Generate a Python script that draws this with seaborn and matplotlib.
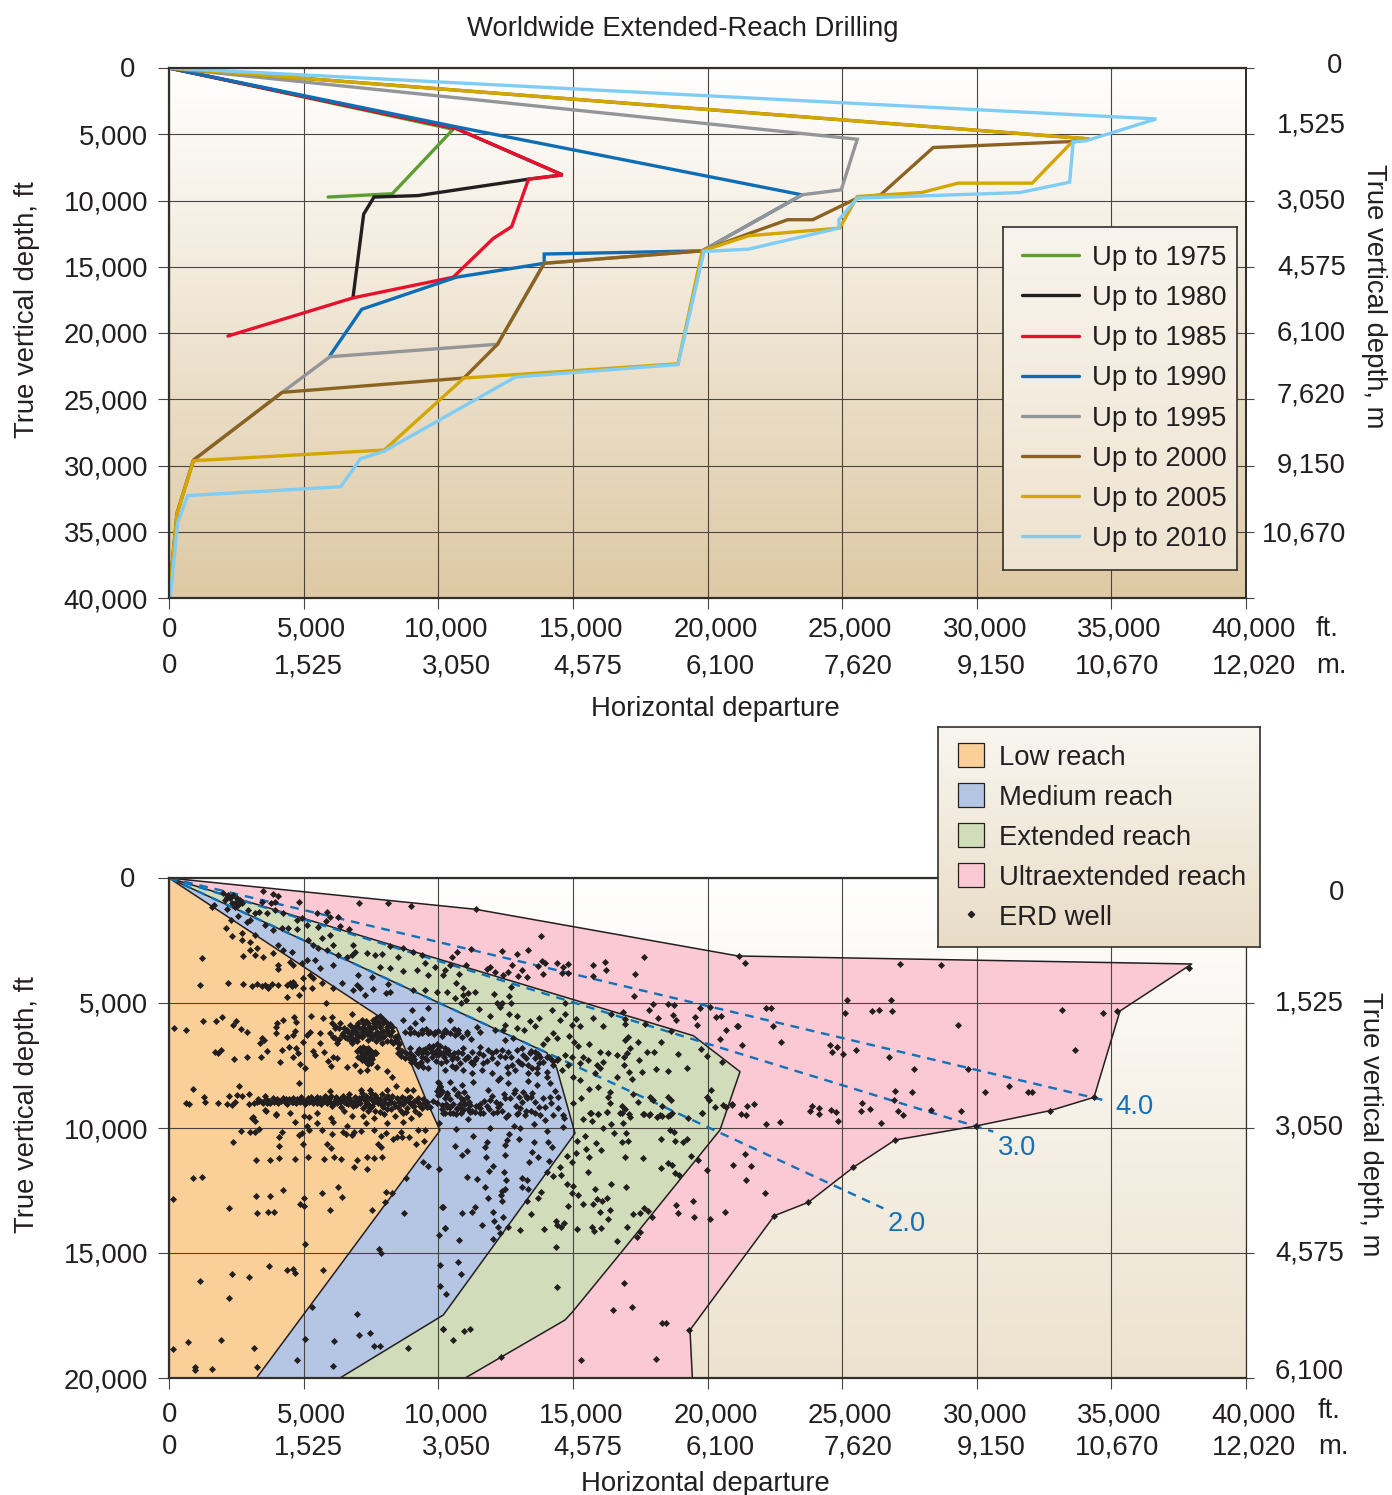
import matplotlib

matplotlib.use("Agg")

import matplotlib.pyplot as plt
import numpy as np
import pandas as pd
import seaborn as sns
from matplotlib.colors import LinearSegmentedColormap
from matplotlib.lines import Line2D
from matplotlib.patches import Patch
from matplotlib.transforms import ScaledTranslation

# wellpaths envelope by year, x = horizontal departure ft, y = true vertical depth ft
up_to_1975_x = [0, 10554, 8295, 5909]
up_to_1975_y = [0, 4626, 9490, 9740]
up_to_1980_x = [0, 10668, 14616, 13352, 9247, 7614, 7230, 6832]
up_to_1980_y = [0, 4570, 8070, 8390, 9630, 9740, 11030, 17350]
up_to_1985_x = [0, 10668, 14616, 13352, 12727, 12045, 10554, 6832, 2187]
up_to_1985_y = [0, 4570, 8070, 8390, 11970, 12860, 15790, 17350, 20230]
up_to_1990_x = [0, 10668, 23510, 19804, 13935, 13935, 10668, 7159, 5980]
up_to_1990_y = [0, 4440, 9573, 13800, 14040, 14740, 15790, 18210, 21700]
up_to_1995_x = [0, 25563, 24967, 23510, 19804, 13935, 12202, 5980, 4205, 909, 298, 0]
up_to_1995_y = [0, 5377, 9196, 9573, 13800, 14740, 20850, 21790, 24480, 29590, 33600, 40000]
up_to_2000_x = [0, 34179, 33510, 28386, 26428, 25563, 23907, 22980, 21520, 19804, 13935, 12202, 10952, 4205, 909, 298, 0]
up_to_2000_y = [0, 5352, 5550, 6000, 9573, 9820, 11450, 11450, 12510, 13800, 14740, 20850, 23400, 24480, 29590, 33600, 40000]
up_to_2005_x = [0, 34179, 33517, 32060, 29305, 27953, 25563, 24907, 21530, 19804, 18906, 10952, 7997, 909, 298, 0]
up_to_2005_y = [0, 5352, 5630, 8690, 8690, 9400, 9700, 12085, 12660, 13800, 22320, 23400, 28830, 29640, 33620, 40000]
up_to_2010_x = [0, 36669, 34047, 33583, 33450, 31600, 25563, 24880, 24880, 21530, 19870, 18906, 12870, 7997, 7117, 6378, 696, 327, 43]
up_to_2010_y = [0, 3844, 5500, 5550, 8620, 9400, 9820, 11450, 12085, 13670, 13845, 22380, 23320, 28920, 29480, 31600, 32270, 34290, 39950]

year_labels = ["Up to 1975", "Up to 1980", "Up to 1985", "Up to 1990",
               "Up to 1995", "Up to 2000", "Up to 2005", "Up to 2010"]
year_colors = ["#5b9e32", "#231f20", "#e8112d", "#0f6db5",
               "#939598", "#8a6320", "#d4a600", "#7fcdf5"]

# reach class envelopes
low_reach_x = [0, 8450, 9500, 10065, 3250, 0]
low_reach_y = [0, 6000, 8750, 10100, 20000, 20000]
medium_reach_x = [0, 14027, 14398, 15079, 10188, 6350]
medium_reach_y = [0, 6987, 7600, 10213, 17480, 20000]
extended_reach_x = [0, 19473, 21207, 20464, 16787, 14993, 14708, 11000]
extended_reach_y = [0, 6307, 7747, 10080, 14987, 17347, 17680, 20000]
ultra_reach_x = [0, 11391, 21144, 37983, 35320, 34355, 32720, 29970, 26964, 25416, 23745, 22483, 19350, 19437]
ultra_reach_y = [0, 1252, 3120, 3440, 5320, 8773, 9307, 9920, 10480, 11573, 12973, 13507, 18080, 20000]

reach_labels = ["Low reach", "Medium reach", "Extended reach", "Ultraextended reach"]
reach_colors = ["#fbcf98", "#b5c5e4", "#d1dcba", "#fbc9d3"]

# departure / depth ratio lines
ratio_labels = ["2.0", "3.0", "4.0"]
ratio_end_x = [26530, 30615, 34800]
ratio_end_y = [13213, 10147, 8907]

wells_ultra = [
    (21169, 3107), (21405, 3413), (27161, 3440), (28672, 3480), (37895, 3613), (25168, 4880), (26802, 4880),
    (22172, 5200), (22370, 5200), (25119, 5413), (26109, 5320), (26357, 5266), (26852, 5333), (33153, 5266),
    (34700, 5413), (35220, 5320), (29290, 5893), (21120, 5933), (22420, 5906), (22730, 6573), (24549, 6693),
    (24809, 6746), (24623, 6946), (25044, 7053), (25527, 6893), (21268, 6693), (33648, 6880), (26753, 7159),
    (27681, 7653), (29687, 7640), (31210, 8320), (30306, 8560), (31915, 8545), (32064, 8545), (26951, 8520),
    (27595, 8573), (25725, 9013), (26914, 8893), (34342, 8773), (21726, 9025), (21479, 9105), (20897, 9065),
    (23868, 9118), (23806, 9332), (24153, 9212), (24153, 9425), (24586, 9279), (24772, 9359), (25688, 9319),
    (26035, 9238), (27087, 9305), (27248, 9478), (28313, 9292), (29402, 9305), (32732, 9305), (21231, 9425),
    (21417, 9492), (22184, 9825), (22680, 9758), (24834, 9705), (26431, 9798), (21380, 11038), (20934, 11478),
    (21603, 11505), (21429, 12078), (22122, 12598), (26964, 10478), (25416, 11571), (23744, 12971),
    (22482, 13505), (29971, 9918), (19969, 11693), (19660, 11280), (18830, 13066), (19461, 12919),
    (18904, 13386), (19499, 13559), (20093, 13652), (20650, 13372), (17951, 13546), (17493, 14172),
    (17369, 14345), (16626, 14532), (16911, 16185), (17196, 17171), (16503, 17278), (18298, 17811),
    (18458, 17811), (19325, 18091), (18075, 19251), (15289, 19278), (12318, 19171), (11390, 1253),
    (13804, 2319), (10684, 2946), (11204, 2839), (10498, 3146), (12355, 2919), (12937, 3026), (13346, 2892),
    (11922, 3546), (11031, 3479), (12751, 3479), (13098, 3679), (13717, 3506), (13841, 3319), (13965, 3399),
    (14398, 3399), (14831, 3425), (14621, 3546), (14831, 3812), (14584, 3812), (13878, 3839), (13309, 3946),
    (12974, 3919), (12603, 3746), (12108, 3746), (11798, 3652), (12392, 3879), (15735, 3479), (16193, 3346),
    (16230, 3679), (15735, 3919), (17654, 3172), (17307, 3826), (17283, 4732), (17988, 5026), (17840, 5279),
    (18533, 5026), (18768, 5092), (18174, 5612), (18731, 5479), (18818, 5679), (19536, 5572), (19598, 5879),
    (19721, 5212), (20093, 5172), (20316, 5572), (20501, 5505), (20687, 6079), (21108, 5905), (20464, 6439),
    (3503, 520), (3850, 640), (4060, 707), (3937, 947), (3775, 1013), (4828, 947), (3466, 947),
    (5818, 1700), (7040, 1010), (8140, 1010), (9000, 1100),
]

wells_extended = [
    (10189, 18051), (10944, 18131), (11179, 18025), (10560, 18491), (14398, 16372), (14361, 14745),
    (15141, 10506), (15450, 10320), (15846, 10586), (16057, 10880), (15475, 10826), (15116, 11013),
    (14794, 11106), (14980, 11346), (15599, 11146), (16948, 11173), (17604, 11200), (18261, 11586),
    (15562, 11746), (14522, 11546), (14546, 11893), (14250, 11920), (14794, 12253), (15017, 12319),
    (14955, 12586), (15203, 12692), (15822, 12439), (16416, 12253), (16986, 12359), (15388, 13026),
    (15747, 13052), (15908, 12852), (16069, 12906), (16267, 12812), (14819, 13132), (16007, 13359),
    (16379, 13279), (17245, 13439), (17493, 13412), (17629, 13212), (17802, 13306), (16305, 13652),
    (13445, 13426), (13717, 12799), (13804, 12546), (13036, 14092), (13940, 14039), (14361, 13706),
    (14423, 13879), (14571, 13946), (14683, 13786), (15153, 14025), (15723, 13946), (15785, 14105),
    (16057, 13985), (17023, 13959), (18545, 11413), (18681, 11493), (18793, 11813), (18954, 11893),
    (18273, 10440), (18793, 10533), (19102, 10573), (19251, 10453), (19399, 11133), (18607, 10080),
    (18756, 10146), (16837, 10573), (17060, 10506), (16961, 10213), (16527, 10186), (16106, 10013),
    (16404, 9853), (16874, 9813), (15388, 9640), (15698, 9706), (15945, 9453), (15661, 9387), (17642, 9440),
    (17839, 9493), (18112, 9573), (18298, 9520), (18545, 9520), (18669, 9387), (19288, 9613), (19783, 9413),
    (16812, 9387), (17122, 9573), (16255, 9347), (10436, 3479), (10251, 3679), (10783, 3839), (10659, 4186),
    (10907, 4412), (10313, 4572), (11117, 4612), (11365, 4546), (10622, 4812), (10932, 4679), (11031, 4879),
    (10832, 4985), (12071, 4639), (12628, 4705), (12702, 5012), (12702, 4372), (12194, 5012), (12293, 5145),
    (12380, 5012), (11526, 5238), (11922, 5505), (12640, 5439), (12937, 5505), (13754, 5585), (13408, 5719),
    (13593, 5919), (12479, 5879), (12417, 6079), (12912, 6012), (13197, 6079), (14237, 5279), (14708, 5012),
    (14708, 5439), (14522, 5679), (14955, 5879), (15116, 5639), (15264, 5919), (15735, 5612), (16106, 5919),
    (16404, 5439), (16874, 5372), (16948, 5652), (16948, 5839), (17679, 5852), (18632, 6119), (17431, 6545),
    (18273, 6572), (15611, 6652), (17060, 6346), (16936, 6479), (14274, 6212), (14398, 6412), (14027, 6452),
    (13903, 6639), (14868, 6305), (15042, 6545), (15202, 6719), (16007, 6945), (16317, 6985), (16626, 7079),
    (17122, 6812), (17023, 6985), (16899, 7145), (17741, 6945), (18025, 6958), (18892, 7039), (19746, 6839),
    (19994, 7105), (20551, 7345), (17468, 7279), (19226, 7585), (18087, 7652), (18545, 7719), (17555, 7772),
    (16899, 7479), (16626, 7945), (17097, 7772), (17184, 8038), (16131, 7345), (16007, 7612), (15822, 7812),
    (15388, 7145), (15264, 7412), (15574, 7279), (15884, 7479), (15017, 7945), (15264, 8078), (14831, 7479),
    (14584, 7679), (14955, 7145), (14708, 7079), (15945, 8345), (15599, 8438), (16379, 8545), (16317, 8745),
    (16379, 9012), (17245, 8652), (17431, 8945), (16812, 9105), (16936, 9251), (16750, 9412), (17097, 9438),
    (17865, 8745), (17988, 8878), (18298, 9105), (18545, 8772), (18632, 8878), (19783, 9412), (19969, 8772),
    (20068, 8878), (20142, 8478), (20279, 9145), (20588, 9078), (20687, 9172), (20898, 9052), (15017, 8985),
    (15289, 8785), (15636, 9385), (15945, 9452), (16255, 9345), (17617, 9438), (17865, 9438), (18236, 9478),
    (18607, 9478), (2946, 1280), (3194, 1386), (3342, 1346), (3627, 1413), (3937, 1280), (4246, 1386),
    (3565, 1880), (3875, 2079), (4184, 2013), (4432, 2013), (4741, 1680), (4927, 1613), (4741, 2053),
    (5113, 1880), (5484, 1413), (5855, 1346), (5979, 1546), (6289, 1546), (5546, 1946), (6351, 1919),
    (6685, 2053), (5979, 2279), (5670, 2413), (6846, 2679), (6908, 2946), (6103, 2679), (7341, 3013),
    (7651, 3079), (7898, 3040), (8208, 2706), (8517, 3146), (8703, 2812), (9074, 2946), (9384, 3079),
    (7836, 3546), (8208, 3612), (8703, 3720), (9198, 3679), (9508, 3386), (9631, 3879), (9879, 3546),
    (10188, 3879),
]

wells_medium = [
    (10647, 10053), (11278, 10320), (11922, 10013), (12813, 9920), (13036, 10013), (13569, 9840),
    (14027, 10106), (14621, 9946), (14683, 9613), (11117, 9653), (12504, 9573), (12937, 9440), (13965, 9680),
    (10622, 10706), (10870, 11080), (11055, 10920), (11736, 10746), (11798, 10573), (11761, 11159),
    (12479, 11080), (12541, 10480), (12628, 10253), (12987, 10440), (12479, 10680), (13569, 10546),
    (14089, 10573), (14212, 10746), (13470, 10973), (13692, 11146), (13371, 11346), (14101, 11306),
    (14052, 11759), (12046, 11506), (11885, 11706), (12454, 11746), (11055, 11959), (11427, 12053),
    (12516, 12093), (11736, 12372), (13123, 11986), (13309, 12066), (13110, 12359), (13346, 12426),
    (12479, 12439), (12355, 12519), (12318, 12679), (12368, 12906), (11835, 12812), (13284, 12919),
    (10164, 13172), (10870, 13399), (11365, 13146), (11253, 13346), (12046, 13372), (12417, 13546),
    (12058, 13706), (11612, 13866), (12231, 13972), (12293, 14185), (12578, 13972), (10251, 14012),
    (10783, 14492), (12046, 14452), (10733, 15358), (10845, 15838), (10275, 16652), (10052, 15478),
    (10052, 16318), (10151, 13172), (10250, 14012), (10015, 14292), (7787, 14839), (7886, 15012),
    (6994, 17452), (7056, 18291), (7452, 18198), (7601, 18731), (7824, 18704), (8889, 18784), (10188, 18051),
    (5323, 17145), (5038, 18451), (6115, 18518), (4741, 19291), (3268, 19544), (6078, 19531), (8802, 12013),
    (8059, 12572), (8282, 12599), (8022, 12959), (8715, 13399), (9421, 11360), (9619, 11519), (10015, 11639),
    (10436, 5679), (10746, 6079), (11055, 6146), (10251, 6079), (10622, 6279), (11427, 5946), (11551, 6146),
    (12108, 6079), (12479, 6479), (12789, 6412), (13098, 6812), (13408, 7012), (13779, 7145), (14212, 7279),
    (14398, 7279), (14027, 7145), (14274, 7479), (14027, 7745), (10189, 7012), (10374, 6879), (10560, 7145),
    (10746, 6945), (10932, 6812), (11055, 7145), (11241, 6945), (11365, 7279), (11551, 6745), (11674, 7079),
    (11860, 6879), (11984, 7212), (12170, 7412), (12355, 6879), (12541, 7545), (12727, 7479), (12479, 7145),
    (12912, 6879), (13160, 7079), (13346, 7479), (13593, 7212), (13036, 7412), (13655, 7812), (13346, 7812),
    (12850, 7679), (10251, 7679), (10622, 7612), (10932, 7679), (11241, 7812), (11612, 7679), (11984, 7812),
    (12293, 8012), (12603, 7812), (10436, 8145), (10870, 8278), (11303, 8145), (11860, 8478), (12232, 8078),
    (12603, 8212), (13321, 8105), (13655, 8278), (14027, 7945), (14150, 8212), (14460, 8772), (13160, 8545),
    (12850, 8478), (13470, 8612), (13284, 8812), (10313, 8612), (10684, 8678), (10932, 8878), (11179, 9078),
    (11551, 9211), (11922, 8878), (12232, 9145), (12479, 8812), (12974, 9412), (10127, 9078), (10436, 9145),
    (10684, 9211), (10932, 9278), (11179, 9345), (10189, 9412), (10560, 9412), (11365, 9345), (11674, 9385),
    (13222, 9478), (13593, 9412), (13965, 9145), (14274, 9478), (14646, 9478), (14460, 9211), (13903, 8812),
    (12046, 9412), (12603, 9478), (13779, 9478), (8765, 6146), (8950, 6212), (9136, 5812), (9384, 6079),
    (9631, 6212), (9879, 6146), (10188, 6212), (8950, 6812), (9198, 6945), (9446, 6879), (9693, 6812),
    (9941, 6879), (10250, 6812), (9384, 7145), (9570, 7279), (9755, 7145), (10003, 7079), (9322, 7412),
    (9631, 7612), (10065, 8345), (10003, 8678), (10313, 8678), (9941, 9012), (10313, 9145), (9012, 5279),
    (9631, 5212), (8703, 5679), (9384, 5652), (1671, 1080), (1584, 1147), (2141, 1253), (2575, 1520),
    (2884, 1747), (3008, 1680), (4060, 2679), (4246, 2879), (4555, 2946), (5175, 2479), (5360, 2679),
    (5546, 2812), (5855, 2879), (6289, 3079), (6598, 3146), (6784, 3079), (7032, 3879), (7527, 3946),
    (6970, 4279), (7094, 4412), (6846, 4479), (7279, 4679), (8059, 4586), (8208, 4546), (7589, 4452),
    (8146, 4239), (9074, 4479), (9508, 4479), (9941, 4546), (2018, 613), (2141, 747), (2265, 813),
    (2080, 880), (2389, 680), (2538, 813), (2488, 947), (2327, 1013), (2637, 880), (2575, 1080),
    (2451, 1147), (2203, 680), (2700, 1000),
    (8950, 6000), (9100, 6150), (9250, 6250), (9400, 6200), (9550, 6050), (9700, 6150), (9850, 6250),
    (10000, 6100), (10150, 6300), (10300, 6150), (10450, 6200), (10600, 6050), (10750, 6200), (10900, 6350),
    (11050, 6250), (11200, 6450), (8500, 6800), (8650, 6900), (8800, 7000), (8950, 7000), (9050, 7100),
    (8900, 7200), (9100, 7250), (9250, 7000), (9400, 7000), (9300, 6850), (9500, 6850), (9650, 6700),
    (9800, 6700), (9950, 6650), (10050, 6700), (9600, 7000), (9750, 6950), (9500, 7200), (9350, 7350),
    (9250, 7500), (9450, 7550), (9150, 7400), (9000, 7350), (8600, 7100), (8500, 7000), (8750, 7200),
    (9700, 6800), (9800, 6950), (9900, 7050), (10000, 6900), (10100, 7000), (10200, 7150), (10300, 6950),
    (10400, 7050), (10500, 7250), (10600, 7000), (10700, 7200), (10800, 7400), (10900, 7000), (11000, 7250),
    (11100, 7150), (11200, 7350), (11300, 7450), (10500, 7500), (10650, 7550), (10300, 7300), (10100, 7400),
    (9900, 7300), (11400, 7200), (11500, 7000), (11650, 7400), (11800, 7300), (12000, 7000), (12150, 6900),
    (12300, 7100), (12600, 6950), (12700, 7150), (12950, 7300), (13100, 7450), (13250, 7200), (13450, 6900),
    (13600, 6950), (13700, 7050), (13750, 7400), (13650, 7600), (13500, 7600), (13900, 7350), (14100, 7150),
    (14250, 7300), (14450, 7250), (10000, 8150), (10050, 8300), (9950, 8500), (10050, 8650), (10150, 8500),
    (10250, 8800), (10450, 8850), (10600, 8450), (10750, 8600), (10850, 8800), (10950, 8550), (11050, 8750),
    (11150, 8950), (10300, 9050), (10400, 9150), (10550, 9050), (10700, 9250), (10800, 9050), (10900, 9200),
    (11000, 9050), (11100, 9250), (10150, 9250), (10250, 9400), (10450, 9400), (10650, 9450), (10850, 9400),
    (11250, 9300), (11400, 9100), (11550, 9050), (11700, 8900), (11800, 9100), (12000, 8700), (12150, 8950),
    (12300, 9050), (12450, 8650), (12650, 8800), (12800, 8600), (12900, 9100), (13000, 8750), (13100, 8950),
    (13250, 8700), (13450, 8750), (13600, 8950), (13750, 9150), (13450, 9300), (13250, 9300), (13050, 9200),
    (14200, 9000), (14350, 8500), (14150, 8750), (11550, 9400), (12200, 9350), (12350, 9300), (11900, 9250),
]

wells_low = [
    (2389, 10573), (2661, 10120), (3008, 10146), (3194, 10173), (3342, 10053), (4085, 10346), (4184, 10146),
    (4073, 10733), (4692, 9773), (4828, 10280), (4939, 10186), (5113, 9906), (5212, 10080), (4976, 10626),
    (5695, 10080), (6066, 10240), (5855, 10653), (6016, 10800), (6598, 9906), (6474, 10160), (6561, 10253),
    (6784, 10266), (6871, 10146), (7131, 10106), (7626, 10080), (7861, 10320), (8059, 10200), (8604, 10146),
    (8331, 10453), (8480, 10346), (8666, 10373), (8901, 10346), (7750, 10640), (7861, 10773), (9235, 10080),
    (9520, 10080), (9161, 10653), (9458, 10533), (10040, 9813), (3231, 11266), (3763, 11266), (4085, 11213),
    (4679, 11226), (5162, 11146), (5769, 11240), (6128, 11146), (6388, 11226), (6994, 11280), (7366, 11146),
    (7626, 11200), (7923, 11146), (6883, 11573), (7353, 11640), (903, 12000), (1213, 11959), (136, 12852),
    (3231, 12733), (3738, 12733), (4246, 12466), (5001, 12812), (4877, 13039), (5001, 13132), (5670, 12612),
    (6264, 12359), (6425, 12759), (5967, 13292), (7551, 13266), (2240, 13212), (3280, 13412), (3677, 13346),
    (3912, 13359), (5038, 14652), (3701, 15518), (2352, 15852), (2971, 15972), (4382, 15678), (4617, 15638),
    (4679, 15812), (5719, 15692), (1151, 16132), (2228, 16785), (693, 18558), (1931, 18478), (136, 18838),
    (3169, 18811), (965, 19557), (965, 19690), (1584, 19624), (3095, 9613), (3194, 9720), (3974, 9453),
    (3615, 9320), (5187, 9573), (2302, 1680), (2117, 1987), (2699, 2186), (2352, 2333), (2711, 2479),
    (3194, 2279), (3008, 2546), (3008, 2879), (3256, 2812), (3194, 3079), (3503, 3146), (2761, 3106),
    (3875, 3013), (1238, 3186), (4060, 3479), (4060, 3652), (4617, 3479), (4493, 3346), (4927, 3412),
    (5113, 3279), (5422, 3279), (5608, 3612), (6103, 3479), (6413, 4212), (6103, 4412), (4989, 4013),
    (5236, 3879), (5360, 4013), (5670, 4212), (5298, 4412), (4828, 4679), (4370, 4746), (4989, 4412),
    (1163, 4292), (2191, 4186), (2760, 4252), (3070, 4319), (3256, 4239), (3441, 4319), (3565, 4279),
    (3689, 4346), (3813, 4239), (3689, 4412), (4060, 4279), (4370, 4279), (4493, 4212), (4617, 4146),
    (4555, 4319), (4679, 4279), (5818, 5012), (185, 5986), (631, 6066), (1275, 5732), (1733, 5719),
    (1968, 5559), (2488, 5732), (2389, 5879), (2661, 6039), (2884, 6146), (3998, 5812), (3974, 5946),
    (4246, 5692), (4655, 5545), (4704, 5746), (5261, 5519), (5732, 5585), (3961, 6212), (4395, 6346),
    (4679, 6119), (4617, 6279), (4989, 6546), (5113, 6279), (5236, 6146), (3441, 6412), (3528, 6479),
    (3379, 6612), (5608, 6612), (5608, 6212), (6041, 5545), (6784, 5452), (1832, 7012), (1931, 6879),
    (1708, 6972), (2401, 7225), (2909, 7145), (3417, 7172), (3652, 6919), (4184, 6892), (4469, 6745),
    (4716, 6785), (4803, 7012), (4617, 7145), (5360, 6905), (5422, 7079), (5757, 6945), (4110, 7372),
    (4877, 7425), (5063, 7612), (6078, 7145), (6227, 7212), (5917, 7319), (6016, 7505), (6598, 7572),
    (6908, 7479), (7094, 7705), (7712, 7572), (8109, 7705), (8270, 7945), (6041, 5812), (6165, 6012),
    (6351, 5812), (5979, 6212), (6103, 6346), (6227, 6612), (6413, 6279), (6598, 6079), (6722, 5879),
    (6846, 6079), (7032, 5812), (7155, 5679), (7217, 5946), (6970, 6279), (7155, 6346), (7341, 6146),
    (7465, 5946), (6722, 6346), (7403, 6479), (7589, 5679), (7712, 5812), (7836, 5946), (7960, 5812),
    (8084, 6079), (8208, 6279), (7960, 6346), (8393, 6346), (8517, 6545), (8331, 6612), (7836, 6212),
    (7712, 6146), (7094, 6879), (7217, 7012), (7032, 7145), (7341, 6945), (7155, 7279), (7403, 7412),
    (7465, 7145), (7341, 7679), (7300, 6100), (7500, 6300), (7700, 6500), (7900, 6600), (8100, 6500),
    (8300, 6100), (8450, 6300), (7000, 6500), (6800, 6600), (6600, 6400), (6500, 6000), (7650, 5950),
    (7250, 6250), (7750, 6350), (7950, 6100), (8250, 5900), (7400, 5800), (6950, 5900), (903, 8451),
    (631, 9011), (755, 9038), (1300, 8744), (1337, 8971), (1832, 9011), (2240, 8717), (2141, 9038),
    (2327, 9078), (2451, 8945), (2538, 8678), (2699, 8717), (2612, 8318), (2971, 8651), (2971, 9038),
    (3565, 8704), (3565, 9278), (3974, 9478), (3132, 9544), (4828, 8184), (5979, 8505), (7118, 8478),
    (7465, 8478), (8084, 8478), (8430, 8318), (8851, 8478), (9074, 8478), (10040, 8184), (10040, 8411),
    (3150, 9000), (3250, 8950), (3350, 8900), (3450, 8950), (3500, 9000), (3600, 8850), (3700, 8900),
    (3750, 9000), (3850, 8800), (3900, 8950), (4000, 8850), (4050, 9000), (4150, 8900), (4250, 8800),
    (4300, 8950), (4400, 9050), (4450, 8850), (4550, 8950), (4600, 8800), (4700, 9000), (4750, 8850),
    (4850, 8950), (4900, 8750), (5000, 8900), (5050, 9050), (5150, 8800), (5200, 8950), (5300, 8850),
    (5350, 9000), (5450, 8900), (5500, 8750), (5600, 8950), (5650, 9050), (5750, 8850), (5800, 8700),
    (5850, 9000), (5950, 8850), (6000, 8700), (6050, 9100), (6150, 8900), (6200, 8750), (6250, 9000),
    (6350, 8850), (6400, 9150), (6450, 8700), (6500, 8950), (6600, 8800), (6650, 9050), (6700, 8650),
    (6750, 8900), (6850, 9100), (6900, 8750), (6950, 8950), (7050, 8800), (7100, 9000), (7150, 8600),
    (7200, 9200), (7250, 8850), (7300, 8700), (7350, 9000), (7450, 8800), (7500, 8600), (7550, 9100),
    (7600, 8950), (7650, 9300), (7700, 8750), (7750, 9000), (7850, 8850), (7900, 8650), (7950, 9150),
    (8000, 8950), (8050, 8750), (8150, 9050), (8200, 8850), (8250, 9250), (8300, 8700), (8350, 9000),
    (8450, 8800), (8500, 9150), (8550, 8950), (8650, 8750), (8700, 9050), (8750, 8850), (8850, 9200),
    (8900, 8950), (8950, 8750), (9050, 9100), (9100, 8900), (9150, 9300), (9250, 8800), (9300, 9000),
    (9400, 9200), (9450, 8850), (9550, 9050), (9600, 8950), (9700, 9150), (9800, 8900), (4500, 9400),
    (5000, 9500), (5500, 9400), (6000, 9600), (6500, 9300), (6800, 9500), (7200, 9500), (7600, 9600),
    (8000, 9450), (8400, 9500), (8700, 9400), (9000, 9600), (9300, 9450), (6100, 9750), (7300, 9800),
    (8100, 9800), (5500, 9800), (8700, 9750),
    (6150, 5900), (6300, 6000), (6450, 6200), (6550, 6350), (6300, 6450), (6150, 6400), (6650, 6150),
    (6750, 6250), (6850, 6000), (6950, 6150), (7050, 6000), (7150, 6150), (7250, 5850), (7300, 5700),
    (7400, 6000), (7450, 6150), (7550, 6000), (7600, 5800), (7700, 5600), (7800, 5750), (7850, 5500),
    (7950, 5650), (8050, 5750), (8100, 5950), (8200, 5850), (8300, 5950), (8150, 6200), (8000, 6300),
    (7850, 6400), (8250, 6500), (8350, 6550), (8450, 6450), (8550, 6650), (7050, 6300), (6950, 6400),
    (6850, 6450), (6750, 6500), (7200, 6050), (7350, 6250), (7650, 6250), (7550, 6400), (7000, 6900),
    (7100, 6800), (7200, 6750), (7300, 6850), (7400, 6800), (7500, 6900), (7150, 7000), (7300, 7050),
    (7450, 7000), (7550, 7100), (7100, 7150), (7250, 7200), (7400, 7250), (7550, 7250), (7300, 7350),
    (7400, 7450), (7500, 7400), (7650, 6950), (7700, 7000),
    (4900, 8820), (5020, 8960), (5140, 8880), (5260, 8760), (5380, 8930), (5500, 9010), (5620, 8790),
    (5740, 8900), (5860, 8810), (5980, 8950), (6100, 9030), (6220, 8830), (6340, 8950), (6460, 8830),
    (6580, 9000), (6700, 8790), (6820, 8960), (6940, 9060), (7060, 8880), (7180, 8750), (7300, 8920),
    (7420, 9080), (7540, 8820), (7660, 8680), (7780, 8900), (7900, 9060), (8020, 8830), (8140, 8700),
    (8260, 8960), (8380, 9120), (8500, 8830), (8620, 9010), (8740, 8950), (8860, 8780), (8980, 9030),
    (9100, 9120), (9220, 8900), (9340, 9100), (9460, 8980), (9580, 9150), (4080, 8900), (4350, 8830),
    (4620, 8970), (3300, 8830), (3650, 8980), (7280, 9100), (7380, 9300), (7480, 9200), (7850, 9350),
    (8100, 9220), (8600, 9300), (8800, 9350),
]

ft_ticks_top = [0, 5000, 10000, 15000, 20000, 25000, 30000, 35000, 40000]
ft_ticks_bottom = [0, 5000, 10000, 15000, 20000]
x_ticks = [0, 5000, 10000, 15000, 20000, 25000, 30000, 35000, 40000]
m_labels_x = ["0", "1,525", "3,050", "4,575", "6,100", "7,620", "9,150", "10,670", "12,020"]
m_labels_top = ["0", "1,525", "3,050", "4,575", "6,100", "7,620", "9,150", "10,670"]
m_labels_bottom = ["0", "1,525", "3,050", "4,575", "6,100"]

W, H = 1392, 1495
INK = "#231f20"
GRID = "#4a4540"
FS = 19.8

sns.set_style("white")
plt.rcParams["font.family"] = ["Liberation Sans", "DejaVu Sans"]
plt.rcParams["text.color"] = INK
plt.rcParams["axes.labelcolor"] = INK
plt.rcParams["xtick.color"] = INK
plt.rcParams["ytick.color"] = INK


def axes_px(fig, left, top, right, bottom):
    return fig.add_axes([left / W, 1 - bottom / H, (right - left) / W, (bottom - top) / H])


def put_text(fig, px, py, text, ha="center", **kwargs):
    # va center sits a touch high for plain text
    if "rotation" in kwargs:
        px += 3 if kwargs["rotation"] == 90 else -2
    else:
        py += 2
    fig.text(px / W, 1 - py / H, text, ha=ha, va="center", fontsize=FS, **kwargs)


def gradient(ax, end_color, start_color="#ffffff"):
    cmap = LinearSegmentedColormap.from_list("bg", [start_color, end_color])
    ax.imshow(np.linspace(0, 1, 256)[:, None], cmap=cmap, aspect="auto",
              extent=(0, 1, 0, 1), transform=ax.transAxes, zorder=0)


def style_axes(fig, ax, y_ticks, y_max, x_pad, spine_right=1.45):
    ax.set_xlim(0, 40000)
    ax.set_ylim(y_max, 0)
    ax.set_xticks(x_ticks, [f"{t:,}" for t in x_ticks])
    ax.set_yticks(y_ticks, [f"{t:,}" for t in y_ticks])
    ax.set_xlabel("")
    ax.set_ylabel("")
    ax.grid(True, color=GRID, lw=0.8, zorder=1)
    ax.set_axisbelow(False)
    for line in ax.get_xgridlines() + ax.get_ygridlines():
        line.set_zorder(2)
    ax.tick_params(axis="both", length=8, width=0.8, color=GRID, labelsize=FS, right=True,
                   left=True, bottom=True)
    ax.tick_params(axis="y", pad=7)
    ax.tick_params(axis="x", pad=x_pad)
    for tick in ax.yaxis.get_major_ticks():
        tick.tick2line.set_markersize(5.5)
    for name, spine in ax.spines.items():
        spine.set_visible(True)
        spine.set_color("#33302c")
        spine.set_linewidth(spine_right if name == "right" else 1.6)
        spine.set_zorder(6)
    for lbl, tick in zip(ax.get_xticklabels(), x_ticks):
        dx = 1 if tick == 0 else 8
        lbl.set_transform(lbl.get_transform() + ScaledTranslation(dx / 100, 0, fig.dpi_scale_trans))
    zero = ax.get_yticklabels()[0]
    zero.set_transform(zero.get_transform() + ScaledTranslation(-13 / 100, 1 / 100, fig.dpi_scale_trans))


def x_metric_row(fig, py):
    centers = [170, 308, 456, 588, 720, 858, 991, 1117, 1254]
    for px, text in zip(centers, m_labels_x):
        put_text(fig, px, py, text)


def plot_year_panel(fig):
    ax = axes_px(fig, 169, 68, 1246, 598)
    gradient(ax, "#dec9a4")
    series = [
        (up_to_1975_x, up_to_1975_y), (up_to_1980_x, up_to_1980_y), (up_to_1985_x, up_to_1985_y),
        (up_to_1990_x, up_to_1990_y), (up_to_1995_x, up_to_1995_y), (up_to_2000_x, up_to_2000_y),
        (up_to_2005_x, up_to_2005_y), (up_to_2010_x, up_to_2010_y),
    ]
    for i, (xs, ys) in enumerate(series):
        df = pd.DataFrame({"departure": xs, "depth": ys})
        sns.lineplot(data=df, x="departure", y="depth", sort=False, estimator=None, ax=ax,
                     color=year_colors[i], lw=2.4, zorder=3 + i * 0.1, solid_joinstyle="miter",
                     legend=False)
    style_axes(fig, ax, ft_ticks_top, 40000, 5.5)

    for py, text in zip([64, 124, 200, 265, 331, 394, 463, 532], m_labels_top):
        put_text(fig, 1342 if text == "0" else 1346, py, text, ha="right")
    put_text(fig, 1316, 627, "ft.", ha="left")
    put_text(fig, 1316, 664, "m.", ha="left")
    x_metric_row(fig, 664)
    put_text(fig, 683, 27, "Worldwide Extended-Reach Drilling")
    put_text(fig, 715, 707, "Horizontal departure")
    put_text(fig, 24, 310, "True vertical depth, ft", rotation=90)
    put_text(fig, 1376, 296, "True vertical depth, m", rotation=-90)

    box = axes_px(fig, 1003, 227, 1237, 570)
    box.set_zorder(10)
    gradient(box, "#eee3d0", "#f8f4ed")
    box.set_xticks([])
    box.set_yticks([])
    for spine in box.spines.values():
        spine.set_visible(True)
        spine.set_color("#33302c")
        spine.set_linewidth(1.2)
    handles = [Line2D([0], [0], color=c, lw=2.4) for c in year_colors]
    box.legend(handles, year_labels, loc="center", bbox_to_anchor=(0.5 + 4 / 234, 0.5), frameon=False,
               fontsize=FS, handlelength=2.1, handletextpad=0.44, labelspacing=0.515, borderpad=0,
               borderaxespad=0)


def plot_reach_panel(fig):
    ax = axes_px(fig, 169, 878, 1246, 1378)
    gradient(ax, "#ece2ce")

    # largest envelope first, each one painted over the last
    closing = [
        (ultra_reach_x, ultra_reach_y, reach_colors[3]),
        (extended_reach_x, extended_reach_y, reach_colors[2]),
        (medium_reach_x, medium_reach_y, reach_colors[1]),
    ]
    for xs, ys, color in closing:
        ax.fill(list(xs) + [0], list(ys) + [20000], color=color, lw=0, zorder=1)
    ax.fill(low_reach_x, low_reach_y, color=reach_colors[0], lw=0, zorder=1.5)

    for xs, ys in [(ultra_reach_x, ultra_reach_y), (extended_reach_x, extended_reach_y),
                   (medium_reach_x, medium_reach_y), (low_reach_x[:5], low_reach_y[:5])]:
        df = pd.DataFrame({"departure": xs, "depth": ys})
        sns.lineplot(data=df, x="departure", y="depth", sort=False, estimator=None, ax=ax,
                     color=INK, lw=1.1, zorder=3, legend=False)

    for i, label in enumerate(ratio_labels):
        df = pd.DataFrame({"departure": [0, ratio_end_x[i]], "depth": [0, ratio_end_y[i]]})
        sns.lineplot(data=df, x="departure", y="depth", sort=False, estimator=None, ax=ax,
                     color="#1070b8", lw=1.7, dashes=(3.7, 2.9), zorder=3.5, legend=False)

    wells = pd.DataFrame(wells_low + wells_medium + wells_extended + wells_ultra,
                         columns=["departure", "depth"])
    sns.scatterplot(data=wells, x="departure", y="depth", ax=ax, marker="D", s=13, color=INK,
                    linewidth=0, zorder=4, legend=False)
    style_axes(fig, ax, ft_ticks_bottom, 20000, 9.5, spine_right=0.9)

    for px, py, text in zip([907, 1017, 1135], [1222, 1146, 1105], ratio_labels):
        put_text(fig, px, py, text, color="#1570b5")
    for py, text in zip([891, 1002, 1126, 1252, 1370], m_labels_bottom):
        put_text(fig, 1344, py, text, ha="right")
    put_text(fig, 1318, 1409, "ft.", ha="left")
    put_text(fig, 1318, 1445, "m.", ha="left")
    x_metric_row(fig, 1445)
    put_text(fig, 705, 1482, "Horizontal departure")
    put_text(fig, 24, 1105, "True vertical depth, ft", rotation=90)
    put_text(fig, 1372, 1124, "True vertical depth, m", rotation=-90)

    box = axes_px(fig, 938, 727, 1260, 947)
    box.set_zorder(10)
    gradient(box, "#e8dcc6", "#f9f6f0")
    box.set_xticks([])
    box.set_yticks([])
    for spine in box.spines.values():
        spine.set_visible(True)
        spine.set_color("#33302c")
        spine.set_linewidth(1.2)
    handles = [Patch(facecolor=c, edgecolor=INK, lw=0.9) for c in reach_colors]
    handles.append(Line2D([0], [0], marker="D", ms=3.2, color=INK, lw=0))
    labels = reach_labels + ["ERD well"]
    box.legend(handles, labels, loc="center left", bbox_to_anchor=(20 / 322, 0.5), frameon=False,
               fontsize=FS, handlelength=0.95, handleheight=0.95, handletextpad=0.55,
               labelspacing=0.46, borderpad=0, borderaxespad=0)


def main():
    fig = plt.figure(figsize=(W / 100, H / 100), dpi=100, facecolor="white")
    plot_year_panel(fig)
    plot_reach_panel(fig)
    fig.savefig("out.png", dpi=100)
    plt.close(fig)


if __name__ == "__main__":
    main()
